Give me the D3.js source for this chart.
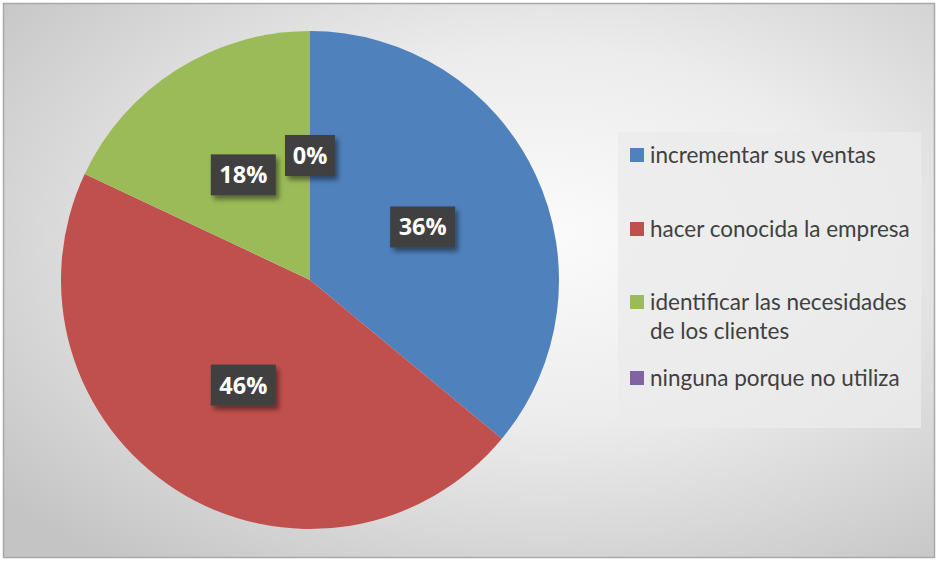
<!DOCTYPE html>
<html><head><meta charset="utf-8">
<script src="https://cdn.jsdelivr.net/npm/d3@7"></script>
<style>html,body{margin:0;padding:0;background:#fff;overflow:hidden}</style>
</head><body>
<svg id="chart" width="937" height="561"></svg>
<script>
const categories = ["incrementar sus ventas", "hacer conocida la empresa", "identificar las necesidades de los clientes", "ninguna porque no utiliza"];
const values = [36, 46, 18, 0];
const labels = ["36%", "46%", "18%", "0%"];
const legendLines = [["incrementar sus ventas"], ["hacer conocida la empresa"], ["identificar las necesidades", "de los clientes"], ["ninguna porque no utiliza"]];
const colors = ["#4f81bd", "#c0504d", "#9bbb59", "#8064a2"];

const svg = d3.select("#chart");
const defs = svg.append("defs");
const rg = defs.append("radialGradient").attr("id", "bg").attr("cx", "58%").attr("cy", "42%").attr("r", "75%");
rg.append("stop").attr("offset", "0%").attr("stop-color", "#fbfbfb");
rg.append("stop").attr("offset", "45%").attr("stop-color", "#ececec");
rg.append("stop").attr("offset", "100%").attr("stop-color", "#c4c4c4");
const f = defs.append("filter").attr("id", "sh").attr("x", "-30%").attr("y", "-30%").attr("width", "170%").attr("height", "180%");
f.append("feDropShadow").attr("dx", 3).attr("dy", 4).attr("stdDeviation", 2.5).attr("flood-color", "#000").attr("flood-opacity", 0.45);

svg.append("rect").attr("x", 3.5).attr("y", 3.5).attr("width", 931).attr("height", 554)
  .attr("fill", "url(#bg)").attr("stroke", "#a8a8a8").attr("stroke-width", 1.5);

const cx = 310, cy = 280, R = 249;
const pie = d3.pie().value(d => d).sort(null);
const arcs = pie(values);
const arc = d3.arc().innerRadius(0).outerRadius(R);
const g = svg.append("g").attr("transform", `translate(${cx},${cy})`);
g.selectAll("path").data(arcs).join("path")
  .attr("d", arc).attr("fill", (d, i) => colors[i]);

// labels
const lg = g.selectAll("g.lab").data(arcs).join("g").attr("class", "lab")
  .attr("transform", d => `translate(${arc.centroid(d)})`);
lg.each(function(d, i) {
  const s = d3.select(this);
  const w = labels[i].length === 2 ? 50 : 65, h = 41;
  s.append("rect").attr("x", -w / 2).attr("y", -h / 2).attr("width", w).attr("height", h)
    .attr("fill", "#404040").attr("filter", "url(#sh)");
  s.append("text").attr("text-anchor", "middle").attr("dy", "0.36em")
    .attr("font-family", "'Open Sans', sans-serif").attr("font-weight", "bold")
    .attr("font-size", 23.5).attr("fill", "#fff").text(labels[i]);
});

// legend
const leg = svg.append("g");
leg.append("rect").attr("x", 618).attr("y", 132).attr("width", 303).attr("height", 296).attr("fill", "#ebebeb").attr("opacity", 0.8);
const rowY = [155, 229, 302, 378];
categories.forEach((c, i) => {
  leg.append("rect").attr("x", 630).attr("y", rowY[i] - 7).attr("width", 14).attr("height", 14).attr("fill", colors[i]);
  legendLines[i].forEach((ln, j) => {
    leg.append("text").attr("x", 650).attr("y", rowY[i] + j * 29).attr("dy", "0.35em")
      .attr("font-family", "Lato, 'Open Sans', sans-serif").attr("font-size", 22.5)
      .attr("fill", "#404040").text(ln);
  });
});
</script>
</body></html>
